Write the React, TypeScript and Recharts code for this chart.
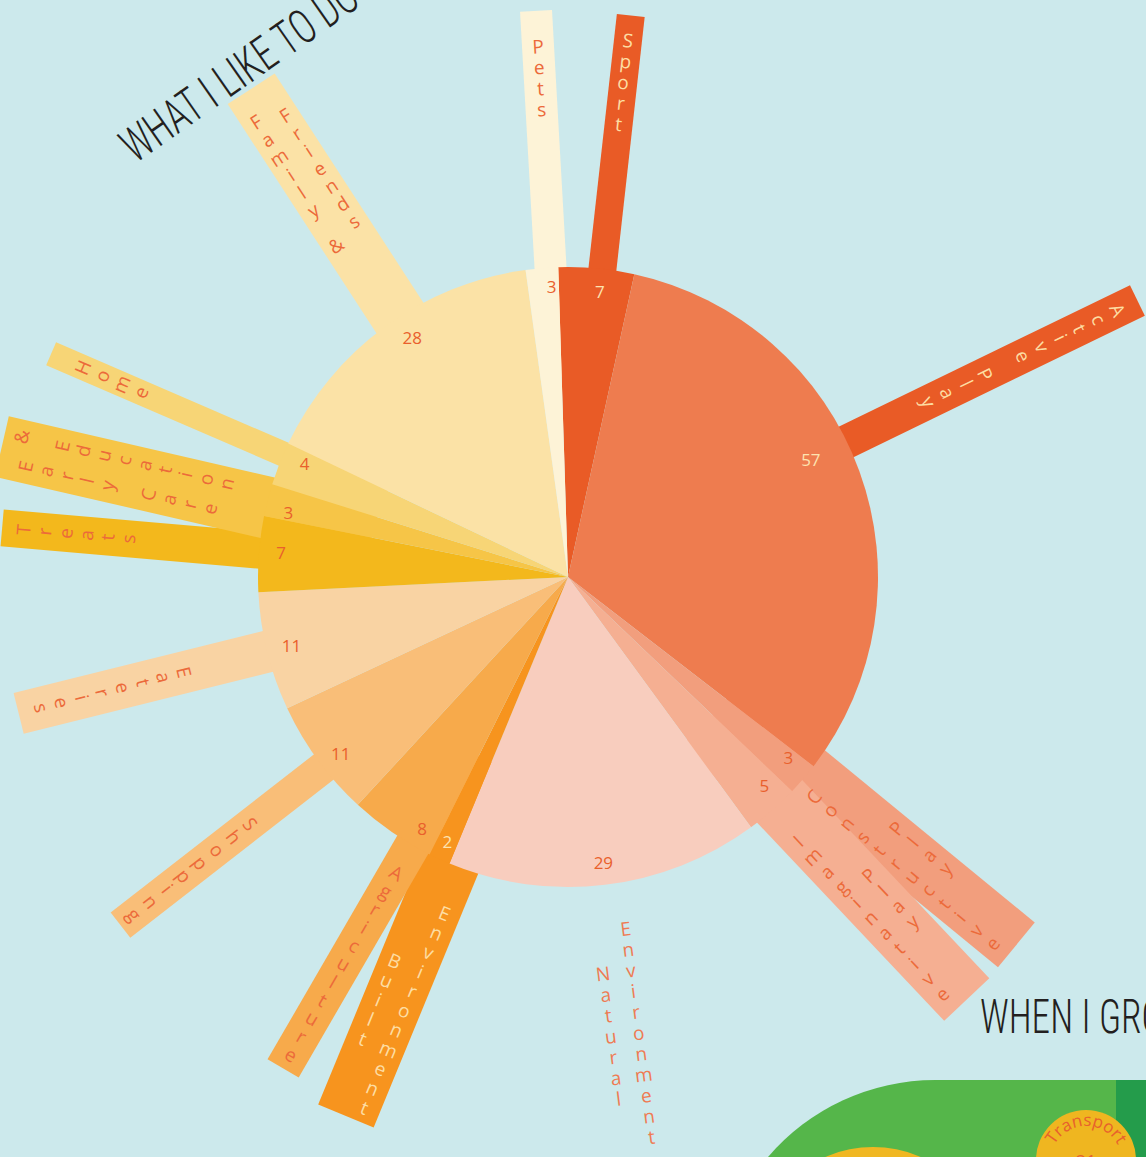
import { PieChart, Pie, Cell } from "recharts";

// clockwise from 12 o'clock
const categories = [
  "Sport", "Active Play", "Constructive Play", "Imaginative Play", "Natural Environment",
  "Built Environment", "Agriculture", "Shopping", "Eateries", "Treats",
  "Early Care & Education", "Home", "Family & Friends", "Pets",
];
const values = [7, 57, 3, 5, 29, 2, 8, 11, 11, 7, 3, 4, 28, 3];
// how each category name is broken into columns in its ray
const labelLines = [
  ["Sport"], ["Active Play"], ["Constructive", "Play"], ["Imaginative", "Play"], ["Natural", "Environment"],
  ["Built", "Environment"], ["Agriculture"], ["Shopping"], ["Eateries"], ["Treats"],
  ["Early Care", "& Education"], ["Home"], ["Family &", "Friends"], ["Pets"],
];

const sliceColors = [
  "#E95B26", "#EE7C4F", "#F29E7D", "#F5AF92", "#F8CDBE", "#F7941E", "#F7AA4B",
  "#F9BE78", "#F9D3A3", "#F3B81C", "#F6C547", "#F7D576", "#FBE2A6", "#FDF3D7",
];
const rayColors = [
  "#E95B26", "#E95B26", "#F29E7D", "#F5AF92", "none", "#F7941E", "#F7AA4B",
  "#F9BE78", "#F9D3A3", "#F3B81C", "#F6C547", "#F7D576", "#FBE2A6", "#FDF3D7",
];
const darkSlices = [0, 1, 5];

// ray geometry: outer end, width, centre of text column (px from pie centre),
// nudge of the ray off the slice middle (deg, clockwise), radius of the value
const rays = [
  { end: 565, w: 28, textR: 498, shift: 1.1, numR: 287 },
  { end: 633, w: 34, textR: 506, shift: -5.9, numR: 270 },
  { end: 580, w: 58, textR: 445, shift: -1.3, numR: 285 },
  { end: 581, w: 62, textR: 455, shift: -2.1, numR: 286 },
  { end: 0, w: 0, textR: 461, shift: -0.2, numR: 288 },
  { end: 583, w: 60, textR: 463, shift: -2.1, numR: 291, numShift: 0 },
  { end: 568, w: 36, textR: 447, shift: -4.5, numR: 291 },
  { end: 567, w: 32, textR: 476, shift: -1.7, numR: 288 },
  { end: 566, w: 42, textR: 469, shift: 0, numR: 285 },
  { end: 568, w: 37, textR: 494, shift: 0.7, numR: 288 },
  { end: 581, w: 62, textR: 459, shift: -1.4, numR: 287 },
  { end: 563, w: 25, textR: 497, shift: 1.9, numR: 287 },
  { end: 582, w: 56, textR: 478, shift: 3.2, numR: 286 },
  { end: 567, w: 32, textR: 500, shift: 1.6, numR: 291 },
];

const data = categories.map((name, i) => ({ name, value: values[i] }));

const CX = 568;
const CY = 577;
const R = 310;
const START = 91.8;
const STEP = 21;
const COL_GAP = 28;
const FONT = "'Open Sans', 'Noto Sans', sans-serif";

const toClockwise = (midAngle: number, shift: number) => {
  const t = (((90 - midAngle + shift) % 360) + 360) % 360;
  const flip = t > 90 && t < 270;
  return { t, flip, rot: flip ? t - 180 : t };
};

// the coloured ray behind each slice, drawn in the sector layer
const RayShape = (props: any) => {
  const { cx, cy, startAngle, endAngle } = props;
  const index = categories.indexOf(props.name ?? props.payload?.name);
  const ray = rays[index];
  if (!ray || ray.w === 0) return <g />;
  const { t } = toClockwise((startAngle + endAngle) / 2, ray.shift);
  return (
    <g transform={`translate(${cx},${cy}) rotate(${t})`}>
      <rect x={-ray.w / 2} y={-ray.end} width={ray.w} height={ray.end - 200} fill={rayColors[index]} />
    </g>
  );
};

const RayText = (props: any) => {
  const { cx, cy, midAngle, index } = props;
  const ray = rays[index];
  const { flip, rot } = toClockwise(midAngle, ray.shift);
  const dir = flip ? 1 : -1;
  const lines = labelLines[index];
  const dark = darkSlices.includes(index);
  const color = dark ? "#FDDDA3" : index === 4 ? "#EF7B53" : "#EC6A3A";
  return (
    <g transform={`translate(${cx},${cy}) rotate(${rot})`}>
      {lines.map((line, li) => {
        const x = (li - (lines.length - 1) / 2) * COL_GAP;
        const chars = Array.from(line);
        return chars.map((ch, ci) =>
          ch === " " ? null : (
            <text
              key={`${li}-${ci}`}
              x={x}
              y={dir * ray.textR + (ci - (chars.length - 1) / 2) * STEP}
              textAnchor="middle"
              dominantBaseline="central"
              fill={color}
              fontSize={19}
              fontFamily={FONT}
            >
              {ch}
            </text>
          )
        );
      })}
    </g>
  );
};

const ValueLabel = (props: any) => {
  const { cx, cy, midAngle, index, value } = props;
  const ray = rays[index];
  const { t } = toClockwise(midAngle, ray.numShift ?? ray.shift);
  const x = cx + ray.numR * Math.sin((t * Math.PI) / 180);
  const y = cy - ray.numR * Math.cos((t * Math.PI) / 180);
  return (
    <text
      x={x}
      y={y}
      textAnchor="middle"
      dominantBaseline="central"
      fill={darkSlices.includes(index) ? "#FDE3B0" : "#E9602C"}
      fontSize={17}
      fontFamily={FONT}
    >
      {value}
    </text>
  );
};

const TITLE_FONT = "'Roboto Condensed', 'Roboto', 'Liberation Sans Narrow', sans-serif";

const Decorations = () => (
  <svg width={1146} height={1157} style={{ position: "absolute", left: 0, top: 0 }}>
    <text
      transform="translate(135,164) rotate(-35)"
      fontSize={48}
      fontFamily={TITLE_FONT}
      fontWeight={300}
      fill="#231F20"
      textLength={278}
      lengthAdjust="spacingAndGlyphs"
    >
      WHAT I LIKE TO DO
    </text>
    <text
      x={980}
      y={1033}
      fontSize={48}
      fontFamily={TITLE_FONT}
      fontWeight={300}
      fill="#231F20"
      textLength={262}
      lengthAdjust="spacingAndGlyphs"
    >
      WHEN I GROW UP
    </text>
    <path d="M 768 1157 A 220 220 0 0 1 935 1080 L 1116 1080 L 1116 1157 Z" fill="#55B64A" />
    <rect x={1116} y={1080} width={30} height={77} fill="#249C4B" />
    <circle cx={873} cy={1267} r={120} fill="#F0B722" />
    <circle cx={1086} cy={1160} r={50} fill="#EFB620" />
    <path id="transportArc" d="M 1050 1162 A 36 36 0 0 1 1122 1162" fill="none" />
    <text fontSize={17} fontFamily={FONT} fill="#E8612C">
      <textPath href="#transportArc" startOffset="50%" textAnchor="middle">
        Transport
      </textPath>
    </text>
    <text x={1086} y={1168} textAnchor="middle" fontSize={18} fontFamily={FONT} fill="#E8612C">
      21
    </text>
  </svg>
);

const App = () => (
  <div style={{ position: "relative", width: 1146, height: 1157, background: "#CCE9EC", overflow: "hidden" }}>
    <style>{"body{margin:0}"}</style>
    <Decorations />
    <div style={{ position: "absolute", left: 0, top: 0 }}>
      <PieChart width={1146} height={1157} margin={{ top: 0, right: 0, bottom: 0, left: 0 }}>
        <Pie
          data={data}
          dataKey="value"
          nameKey="name"
          cx={CX}
          cy={CY}
          outerRadius={R}
          startAngle={START}
          endAngle={START - 360}
          stroke="none"
          shape={RayShape}
          label={RayText}
          labelLine={false}
          isAnimationActive={false}
        />
        <Pie
          data={data}
          dataKey="value"
          nameKey="name"
          cx={CX}
          cy={CY}
          outerRadius={R}
          startAngle={START}
          endAngle={START - 360}
          stroke="none"
          label={ValueLabel}
          labelLine={false}
          isAnimationActive={false}
        >
          {data.map((d, i) => (
            <Cell key={d.name} fill={sliceColors[i]} />
          ))}
        </Pie>
      </PieChart>
    </div>
  </div>
);

export default App;
